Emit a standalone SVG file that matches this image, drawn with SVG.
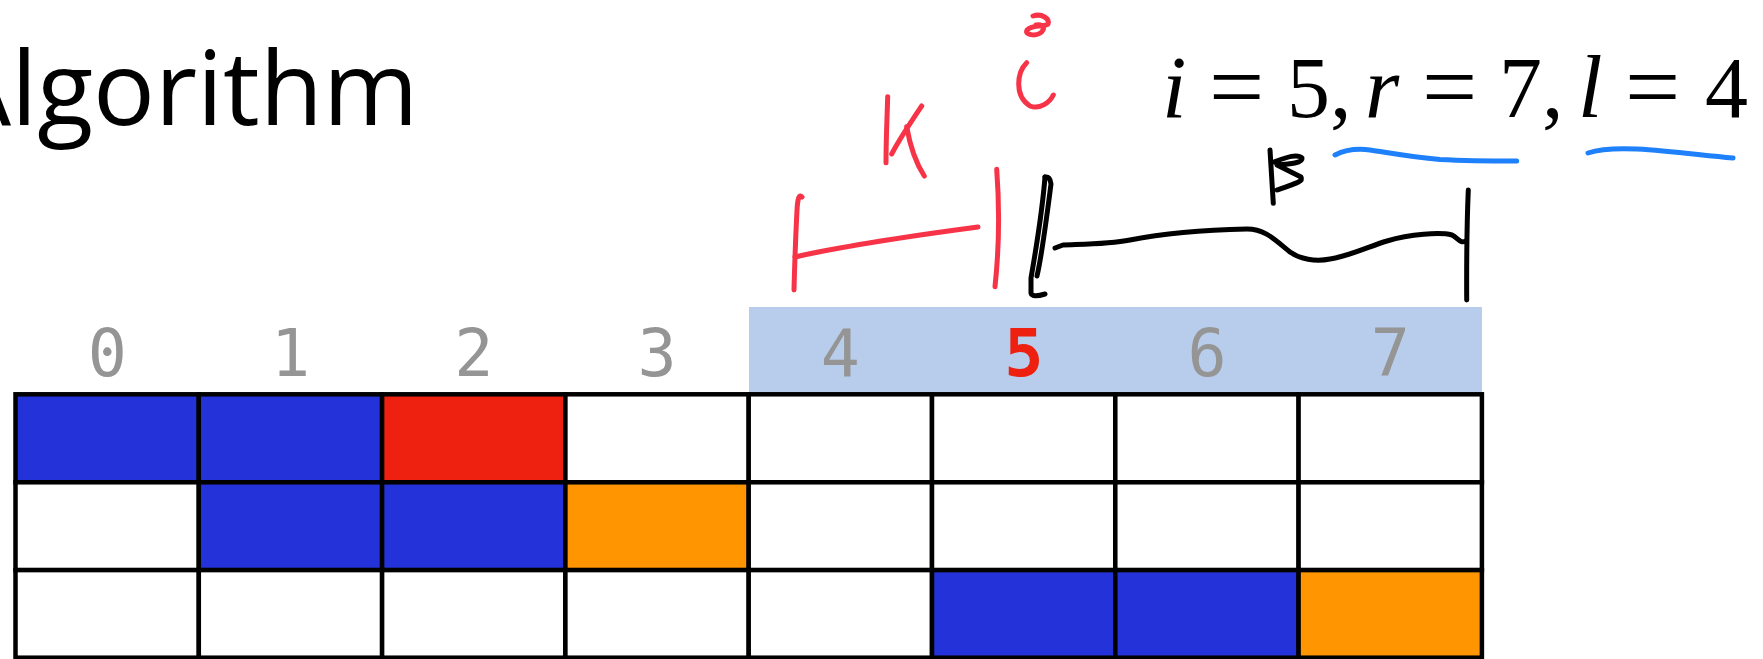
<svg xmlns="http://www.w3.org/2000/svg" width="1763" height="659" viewBox="0 0 1763 659">
<style>
.title{font-family:"Open Sans","Noto Sans",sans-serif;font-size:103px;fill:#000}
.idx{font-family:"DejaVu Sans Mono","Liberation Mono",monospace;font-size:65px;fill:#959595;text-anchor:middle}
.cur{fill:#EE2010;font-weight:bold}
.cell{stroke:#000;stroke-width:4.5}
.w{fill:#fff}.b{fill:#2433D9}.r{fill:#EE2010}.o{fill:#FF9500}
.pen{fill:none;stroke-linecap:round;stroke-linejoin:round;stroke-width:5}
.red{stroke:#F73347}.blk{stroke:#000}.blu{stroke:#1E80FA}
.math{font-family:"Liberation Serif","Times New Roman",serif;font-size:86px;fill:#000}
.it{font-style:italic;font-size:88px}.eq{font-size:98px}.sp{font-size:50px}
</style>
<rect width="1763" height="659" fill="#fff"/>
<text class="title" x="-54" y="125">Algorithm</text>
<g id="window">
<rect x="749" y="307" width="733" height="88" fill="#B8CDEB"/>
</g>
<g id="indices">
<text class="idx" x="107.2" y="376">0</text>
<text class="idx" x="290.5" y="376">1</text>
<text class="idx" x="473.8" y="376">2</text>
<text class="idx" x="657.1" y="376">3</text>
<text class="idx" x="840.4" y="376">4</text>
<text class="idx cur" x="1023.7" y="376">5</text>
<text class="idx" x="1207" y="376">6</text>
<text class="idx" x="1390.3" y="376">7</text>
</g>
<g id="grid">
<g id="c00"><rect class="cell b" x="15.5" y="394.3" width="183.3" height="88"/></g>
<g id="c01"><rect class="cell b" x="198.8" y="394.3" width="183.3" height="88"/></g>
<g id="c02"><rect class="cell r" x="382.1" y="394.3" width="183.3" height="88"/></g>
<g id="c03"><rect class="cell w" x="565.4" y="394.3" width="183.3" height="88"/></g>
<g id="c04"><rect class="cell w" x="748.7" y="394.3" width="183.3" height="88"/></g>
<g id="c05"><rect class="cell w" x="932" y="394.3" width="183.3" height="88"/></g>
<g id="c06"><rect class="cell w" x="1115.3" y="394.3" width="183.3" height="88"/></g>
<g id="c07"><rect class="cell w" x="1298.6" y="394.3" width="183.3" height="88"/></g>
<g id="c10"><rect class="cell w" x="15.5" y="482.3" width="183.3" height="87.8"/></g>
<g id="c11"><rect class="cell b" x="198.8" y="482.3" width="183.3" height="87.8"/></g>
<g id="c12"><rect class="cell b" x="382.1" y="482.3" width="183.3" height="87.8"/></g>
<g id="c13"><rect class="cell o" x="565.4" y="482.3" width="183.3" height="87.8"/></g>
<g id="c14"><rect class="cell w" x="748.7" y="482.3" width="183.3" height="87.8"/></g>
<g id="c15"><rect class="cell w" x="932" y="482.3" width="183.3" height="87.8"/></g>
<g id="c16"><rect class="cell w" x="1115.3" y="482.3" width="183.3" height="87.8"/></g>
<g id="c17"><rect class="cell w" x="1298.6" y="482.3" width="183.3" height="87.8"/></g>
<g id="c20"><rect class="cell w" x="15.5" y="570.1" width="183.3" height="87.6"/></g>
<g id="c21"><rect class="cell w" x="198.8" y="570.1" width="183.3" height="87.6"/></g>
<g id="c22"><rect class="cell w" x="382.1" y="570.1" width="183.3" height="87.6"/></g>
<g id="c23"><rect class="cell w" x="565.4" y="570.1" width="183.3" height="87.6"/></g>
<g id="c24"><rect class="cell w" x="748.7" y="570.1" width="183.3" height="87.6"/></g>
<g id="c25"><rect class="cell b" x="932" y="570.1" width="183.3" height="87.6"/></g>
<g id="c26"><rect class="cell b" x="1115.3" y="570.1" width="183.3" height="87.6"/></g>
<g id="c27"><rect class="cell o" x="1298.6" y="570.1" width="183.3" height="87.6"/></g>
</g>
<g id="formula">
<text class="math" y="117"><tspan class="it" x="1162">i</tspan><tspan> </tspan><tspan class="eq" x="1209" y="119">=</tspan><tspan y="117"> </tspan><tspan x="1287">5</tspan><tspan x="1330">,</tspan><tspan class="sp"> </tspan><tspan class="it" x="1365">r</tspan><tspan> </tspan><tspan class="eq" x="1422" y="119">=</tspan><tspan y="117"> </tspan><tspan x="1499">7</tspan><tspan x="1542">,</tspan><tspan class="sp"> </tspan><tspan class="it" x="1578">l</tspan><tspan> </tspan><tspan class="eq" x="1625" y="119">=</tspan><tspan y="117"> </tspan><tspan x="1705">4</tspan></text>
</g>
<g id="annotations">
<path class="pen red" d="M887.7,96.7 C887,120 886,140 886,162.7"/>
<path class="pen red" d="M921.7,106 C915,116 900,138 891.7,154"/>
<path class="pen red" d="M906.7,126.7 C909,140 914,160 924.3,176"/>
<path class="pen red" d="M1026.7,62.7 C1017,72 1014,96 1030,106 C1040,110 1050,102 1053.3,95"/>
<path class="pen red" stroke-width="6.5" d="M1033,16 C1042,13 1050,19 1048,24 C1046,27 1032,24 1027,30 C1024,36 1040,37 1043,30 C1045,26 1040,24 1036,25"/>
<path class="pen red" d="M802,197 Q798,192 797,210 Q795,250 794,290"/>
<path class="pen red" d="M795,257 C830,249 880,240 978,227"/>
<path class="pen red" d="M996.7,169.3 C999,200 1000,240 995,286.7"/>
<path class="pen blk" stroke-width="6.5" d="M1045,177 C1042,215 1035,255 1031,278 L1031,293 Q1032,298 1045,294"/>
<path class="pen blk" stroke-width="6.5" d="M1045,177 Q1050,176 1051,184 C1047,215 1042,255 1037,276"/>
<path class="pen blk" d="M1055,248 L1063,245 C1090,244 1110,244 1130,240 C1160,234 1200,230 1247,229 C1265,229 1275,240 1290,252 C1300,259 1315,262 1330,259 C1350,256 1370,246 1387,241 C1410,234 1440,232 1452,235 C1458,238 1460,244 1466,241"/>
<path class="pen blk" d="M1468.3,190 C1467,220 1466.5,260 1466.7,300"/>
<path class="pen blk" d="M1270,150 L1273.3,203.3"/>
<path class="pen blk" stroke-width="5.5" d="M1274,162 C1285,158 1297,153 1302,158 C1303,163 1290,164 1277,165 L1301,177 C1303,181 1300,182 1277,190"/>
<path class="pen blu" d="M1335,155 C1345,150 1355,148 1370,150 C1390,153 1410,157 1440,159.5 C1470,161 1500,161 1516.7,161"/>
<path class="pen blu" d="M1588,153 C1600,149 1615,148 1637,149 C1670,151 1700,155 1733,158"/>
</g>
</svg>
